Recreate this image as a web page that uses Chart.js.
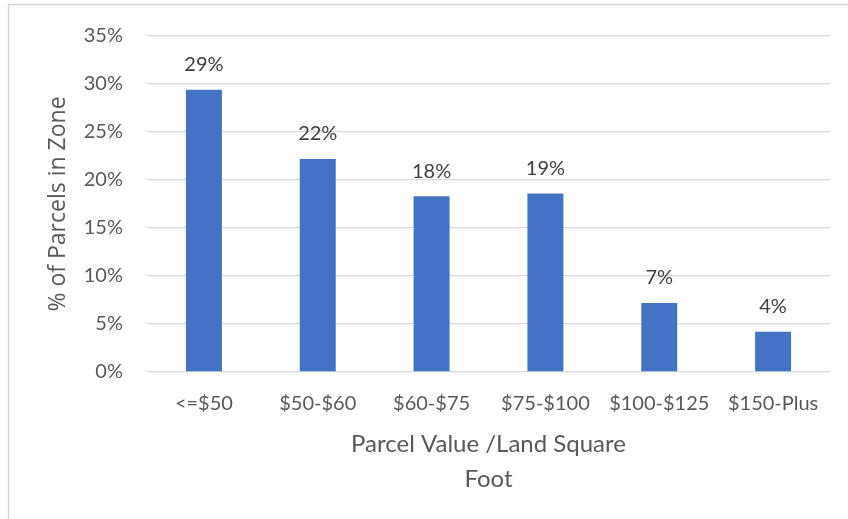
<!DOCTYPE html>
<html>
<head>
<meta charset="utf-8">
<script src="https://cdn.jsdelivr.net/npm/chart.js@4/dist/chart.umd.min.js"></script>
<style>
  html, body { margin: 0; padding: 0; background: #ffffff; }
  #wrap { width: 848px; height: 519px; position: relative; }
</style>
</head>
<body>
<div id="wrap"><canvas id="c" width="848" height="519"></canvas></div>
<script>
// Share of parcels per land value bracket ($ per square foot)
const categories = ['<=$50', '$50-$60', '$60-$75', '$75-$100', '$100-$125', '$150-Plus'];
const shareOfParcels = [29.4, 22.2, 18.3, 18.6, 7.2, 4.2];
const yTicks = [0, 5, 10, 15, 20, 25, 30, 35];
const xTitleLines = ['Parcel Value /Land Square', 'Foot'];
const yTitle = '% of Parcels in Zone';

const TEXT = '#595959';
const GRID = '#d9d9d9';

// Light frame around the whole chart
const framePlugin = {
  id: 'frame',
  beforeDraw(chart) {
    const ctx = chart.ctx;
    ctx.save();
    ctx.fillStyle = '#ffffff';
    ctx.fillRect(0, 0, chart.width, chart.height);
    ctx.strokeStyle = '#d6d6d6';
    ctx.lineWidth = 1.5;
    ctx.strokeRect(8.5, 4.5, chart.width + 20, chart.height + 20);
    ctx.restore();
  }
};

// Rounded percentage written above each bar
const valueLabels = {
  id: 'valueLabels',
  afterDatasetsDraw(chart) {
    const ctx = chart.ctx;
    const meta = chart.getDatasetMeta(0);
    ctx.save();
    ctx.font = '20px Lato';
    ctx.fillStyle = '#404040';
    ctx.textAlign = 'center';
    ctx.textBaseline = 'middle';
    meta.data.forEach((bar, i) => {
      const v = chart.data.datasets[0].data[i];
      ctx.fillText(Math.round(v) + '%', bar.x, bar.y - 25);
    });
    ctx.restore();
  }
};

new Chart(document.getElementById('c'), {
  type: 'bar',
  data: {
    labels: categories,
    datasets: [{
      data: shareOfParcels,
      backgroundColor: '#4472c4',
      borderWidth: 0,
      categoryPercentage: 1,
      barPercentage: 0.316
    }]
  },
  options: {
    responsive: false,
    animation: false,
    devicePixelRatio: 1,
    layout: { padding: { left: 0, right: 18, top: 34, bottom: 22 } },
    plugins: {
      legend: { display: false },
      tooltip: { enabled: false }
    },
    scales: {
      x: {
        grid: { display: false, drawTicks: false },
        border: { display: false },
        ticks: {
          color: TEXT,
          font: { family: 'Lato', size: 20 },
          padding: 20,
          maxRotation: 0,
          autoSkip: false
        },
        title: {
          display: true,
          text: xTitleLines,
          color: TEXT,
          font: { family: 'Lato', size: 24, lineHeight: '35px' },
          padding: { top: 0, bottom: 0 }
        },
        afterFit(scale) { scale.height = 125; }
      },
      y: {
        min: 0,
        max: 35,
        afterBuildTicks(scale) { scale.ticks = yTicks.map(v => ({ value: v })); },
        grid: { color: GRID, lineWidth: 1.3, drawTicks: false },
        border: { display: false },
        ticks: {
          color: TEXT,
          font: { family: 'Lato', size: 20 },
          padding: 24,
          callback: v => v + '%'
        },
        title: {
          display: true,
          text: yTitle,
          color: TEXT,
          font: { family: 'Open Sans', size: 23 },
          padding: { top: 45, bottom: 0 }
        },
        afterFit(scale) { scale.width = 147; }
      }
    }
  },
  plugins: [framePlugin, valueLabels]
});
</script>
</body>
</html>
